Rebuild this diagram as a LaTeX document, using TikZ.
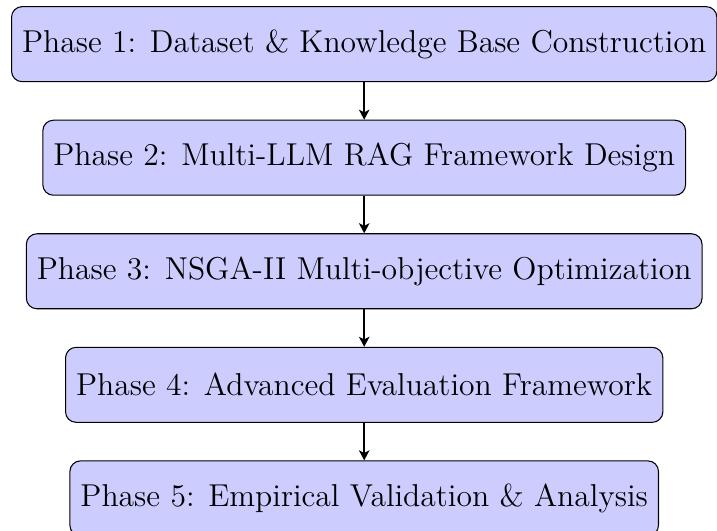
\documentclass[tikz,border=0pt,12pt]{standalone}
\usetikzlibrary{positioning,arrows.meta}
\begin{document}
\begin{tikzpicture}[
  phasebox/.style={rectangle, rounded corners, draw=black, fill=blue!20, minimum height=1cm, align=center, font=\fontsize{12}{14}\selectfont},
  flow/.style={semithick, -{Stealth[length=3.8pt,width=4pt,inset=1pt]}},
  node distance=0.5cm
]
\useasboundingbox (-4.856,0.589) rectangle (4.704,-6.49);
\node[phasebox] (p1) at (0,0) {Phase 1: Dataset \& Knowledge Base Construction};
\node[phasebox, below=of p1] (p2) {Phase 2: Multi-LLM RAG Framework Design};
\node[phasebox, below=of p2] (p3) {Phase 3: NSGA-II Multi-objective Optimization};
\node[phasebox, below=of p3] (p4) {Phase 4: Advanced Evaluation Framework};
\node[phasebox, below=of p4] (p5) {Phase 5: Empirical Validation \& Analysis};
\draw[flow] (p1) -- (p2);
\draw[flow] (p2) -- (p3);
\draw[flow] (p3) -- (p4);
\draw[flow] (p4) -- (p5);
\end{tikzpicture}
\end{document}
